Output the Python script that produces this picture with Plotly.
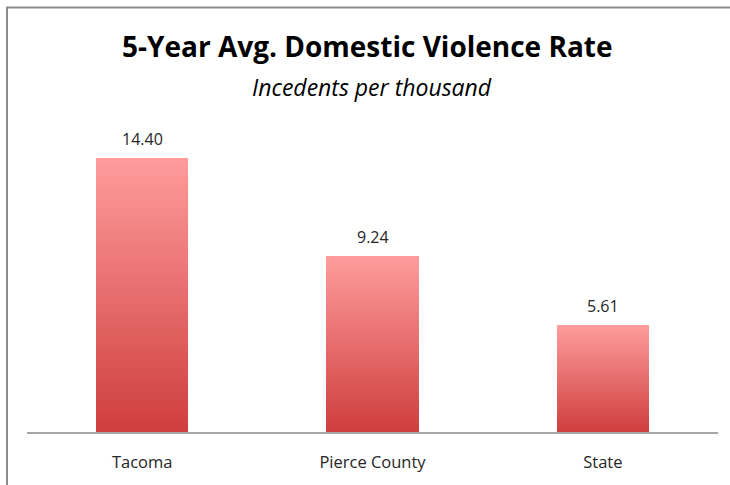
import plotly.graph_objects as go

categories = ["Tacoma", "Pierce County", "State"]
values = [14.40, 9.24, 5.61]
labels = ["14.40", "9.24", "5.61"]

W, H = 730, 485
ML, MR, MT, MB = 27, 12, 100, 51
PW, PH = W - ML - MR, H - MT - MB
px_per_unit = 19.17
ymax = PH / px_per_unit

top_rgb = (255, 156, 156)
bot_rgb = (207, 62, 62)
N = 60

fig = go.Figure()
for i in range(N):
    f = (i + 0.5) / N  # 0 bottom -> 1 top
    r = round(bot_rgb[0] + (top_rgb[0] - bot_rgb[0]) * f)
    g = round(bot_rgb[1] + (top_rgb[1] - bot_rgb[1]) * f)
    b = round(bot_rgb[2] + (top_rgb[2] - bot_rgb[2]) * f)
    fig.add_trace(go.Bar(
        x=categories,
        y=[v / N for v in values],
        marker=dict(color=f"rgb({r},{g},{b})", line=dict(width=0)),
        hoverinfo="skip",
        showlegend=False,
    ))

def px_to_paper_x(px):
    return (px - ML) / PW

def px_to_paper_y(py):
    return (H - MB - py) / PH

annotations = [
    dict(text="<b>5-Year Avg. Domestic Violence Rate</b>", xref="paper", yref="paper",
         x=px_to_paper_x(367), y=px_to_paper_y(46), xanchor="center", yanchor="middle",
         showarrow=False, font=dict(family="Open Sans", size=28, color="#000000")),
    dict(text="<i>Incedents per thousand</i>", xref="paper", yref="paper",
         x=px_to_paper_x(372), y=px_to_paper_y(87), xanchor="center", yanchor="middle",
         showarrow=False, font=dict(family="Open Sans", size=23, color="#000000")),
]
for c, v, t in zip(categories, values, labels):
    annotations.append(dict(text=t, x=c, y=v, xref="x", yref="y",
                            xanchor="center", yanchor="bottom", yshift=6,
                            showarrow=False,
                            font=dict(family="Open Sans", size=16, color="#262626")))

fig.update_layout(
    width=W, height=H,
    margin=dict(l=ML, r=MR, t=MT, b=MB, pad=0),
    barmode="stack", bargap=0.6,
    plot_bgcolor="white", paper_bgcolor="white",
    showlegend=False,
    xaxis=dict(showgrid=False, showline=True, linecolor="#A6A6A6", linewidth=1.5,
               ticks="", tickfont=dict(family="Open Sans", size=16.5, color="#262626"),
               ticklabelstandoff=14, fixedrange=True),
    yaxis=dict(range=[0, ymax], visible=False, fixedrange=True),
    annotations=annotations,
    shapes=[
        dict(type="rect", xref="paper", yref="paper",
             x0=px_to_paper_x(7), x1=px_to_paper_x(740),
             y0=px_to_paper_y(500), y1=px_to_paper_y(7),
             line=dict(color="#8C8C8C", width=2), fillcolor="rgba(0,0,0,0)", layer="above"),
    ],
)

fig.write_html("out.html")
